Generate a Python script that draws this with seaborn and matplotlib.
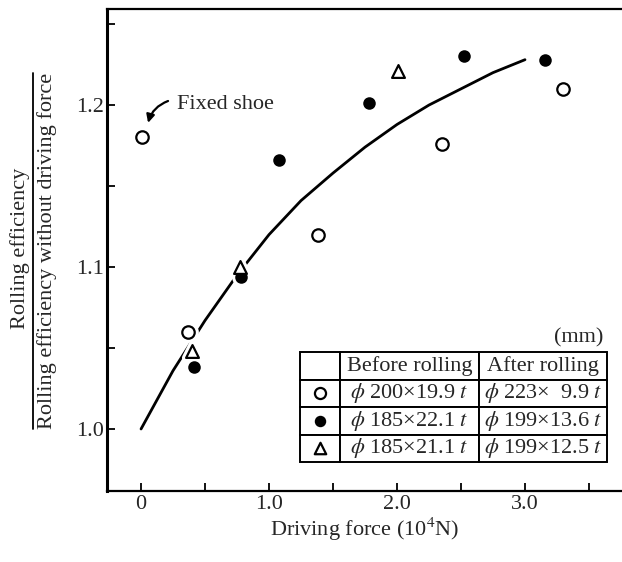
"""Rolling efficiency ratio vs driving force, redrawn from a scanned figure."""

import matplotlib
matplotlib.use("Agg")
import matplotlib.pyplot as plt
from matplotlib.ticker import MultipleLocator
from matplotlib.lines import Line2D
import seaborn as sns

sns.set_style("ticks")
plt.rcParams['font.family'] = ['Liberation Serif', 'DejaVu Serif']
plt.rcParams['mathtext.fontset'] = 'stix'
FS = 16

# Measured points (driving force 10^4 N, efficiency ratio)
open_circle_x = [0.01, 0.365, 1.385, 2.35, 3.30]
open_circle_y = [1.180, 1.060, 1.120, 1.176, 1.210]
filled_dot_x = [0.41, 0.78, 1.08, 1.78, 2.52, 3.16]
filled_dot_y = [1.038, 1.094, 1.166, 1.201, 1.230, 1.228]
triangle_x = [0.396, 0.77, 2.01]
triangle_y = [1.048, 1.100, 1.221]

# Trend curve
curve_x = [0.0, 0.25, 0.5, 0.75, 1.0, 1.25, 1.5, 1.75, 2.0, 2.25, 2.5, 2.75, 3.0]
curve_y = [1.000, 1.036, 1.067, 1.095, 1.120, 1.141, 1.158, 1.174, 1.188,
           1.200, 1.210, 1.220, 1.228]

# Legend table
table_header = ["", "Before rolling", "After rolling"]
before_rolling = [r"$\phi$ 200×19.9 $t$", r"$\phi$ 185×22.1 $t$", r"$\phi$ 185×21.1 $t$"]
after_rolling = [r"$\phi$ 223×  9.9 $t$", r"$\phi$ 199×13.6 $t$", r"$\phi$ 199×12.5 $t$"]

series = [
    (open_circle_x, open_circle_y, "o", "white", 80),
    (filled_dot_x, filled_dot_y, "o", "black", 55),
    (triangle_x, triangle_y, "^", "white", 85),
]

fig = plt.figure(figsize=(6.22, 5.62), dpi=100)
ax = fig.add_axes([107 / 622, 1 - 491 / 562, 515 / 622, 482 / 562])

sns.lineplot(x=curve_x, y=curve_y, color="black", linewidth=2.0, ax=ax, zorder=2)

# white halos so the curve breaks around the markers, then the markers
for xs, ys, mk, face, size in series:
    sns.scatterplot(x=xs, y=ys, marker=mk, s=size, color="white",
                    edgecolor="white", linewidth=6, ax=ax, zorder=3)
for xs, ys, mk, face, size in series:
    sns.scatterplot(x=xs, y=ys, marker=mk, s=size, color=face,
                    edgecolor="black", linewidth=1.6, ax=ax, zorder=4)

ax.set_xlim(-0.266, 3.758)
ax.set_ylim(0.9617, 1.2593)
ax.xaxis.set_major_locator(MultipleLocator(1.0))
ax.xaxis.set_minor_locator(MultipleLocator(0.5))
ax.yaxis.set_major_locator(MultipleLocator(0.1))
ax.yaxis.set_minor_locator(MultipleLocator(0.05))
ax.set_xticks([0, 1, 2, 3])
ax.set_xticklabels(["0", "1.0", "2.0", "3.0"])
ax.set_yticks([1.0, 1.1, 1.2])
ax.set_yticklabels(["1.0", "1.1", "1.2"])
ax.tick_params(axis="both", which="both", direction="in", length=6, width=1.3,
               labelsize=FS, color="black")
ax.tick_params(axis="y", pad=2)
ax.tick_params(axis="x", pad=3)
# the scan cuts off the right edge of the frame
ax.spines["right"].set_visible(False)
for side in ["top", "bottom"]:
    ax.spines[side].set_linewidth(1.6)
ax.spines["left"].set_linewidth(2.2)
for sp in ax.spines.values():
    sp.set_color("black")

ax.set_xlabel("Driving force (10$^4$N)", fontsize=FS, labelpad=1)
ax.set_ylabel("")

# Fixed shoe note
ax.text(0.281, 1.2005, "Fixed shoe", fontsize=FS, ha="left", va="center")
ax.annotate("", xy=(0.055, 1.189), xytext=(0.211, 1.2025),
            arrowprops=dict(arrowstyle="-|>", connectionstyle="arc3,rad=0.25",
                            color="black", lw=1.6, mutation_scale=12,
                            shrinkA=0, shrinkB=0))

# Legend table
cell_text = [table_header] + [["", b, a] for b, a in zip(before_rolling, after_rolling)]
tx, ty, tw, th = 0.375, 0.060, 0.596, 0.228
tbl = ax.table(cellText=cell_text, cellLoc="center",
               colWidths=[0.130, 0.453, 0.417], bbox=[tx, ty, tw, th], zorder=5)
tbl.auto_set_font_size(False)
tbl.set_fontsize(FS)
for cell in tbl.get_celld().values():
    cell.set_linewidth(1.4)
    cell.set_edgecolor("black")
    cell.set_facecolor("white")
    cell.PAD = 0.02

row_h = th / 4
mk_x = tx + tw * 0.130 / 2
for i, (xs, ys, mk, face, size) in enumerate(series):
    ax.scatter([mk_x], [ty + th - row_h * (i + 1.5)], transform=ax.transAxes,
               marker=mk, s=size * 0.8, color=face, edgecolor="black",
               linewidth=1.6, zorder=6, clip_on=False)

ax.text(0.963, 0.317, "(mm)", transform=ax.transAxes, fontsize=FS,
        ha="right", va="center")

# Fraction-style y label
num = fig.text(20 / 622, 1 - 248 / 562, "Rolling efficiency", rotation=90,
               fontsize=FS, ha="center", va="center")
den = fig.text(47 / 622, 1 - 251 / 562, "Rolling efficiency without driving force",
               rotation=90, fontsize=FS, ha="center", va="center")
fig.canvas.draw()
bb = den.get_window_extent().transformed(fig.transFigure.inverted())
fig.add_artist(Line2D([33 / 622, 33 / 622], [bb.y0, bb.y1], color="black",
                      lw=1.3, transform=fig.transFigure))

fig.savefig("out.png", dpi=100)
